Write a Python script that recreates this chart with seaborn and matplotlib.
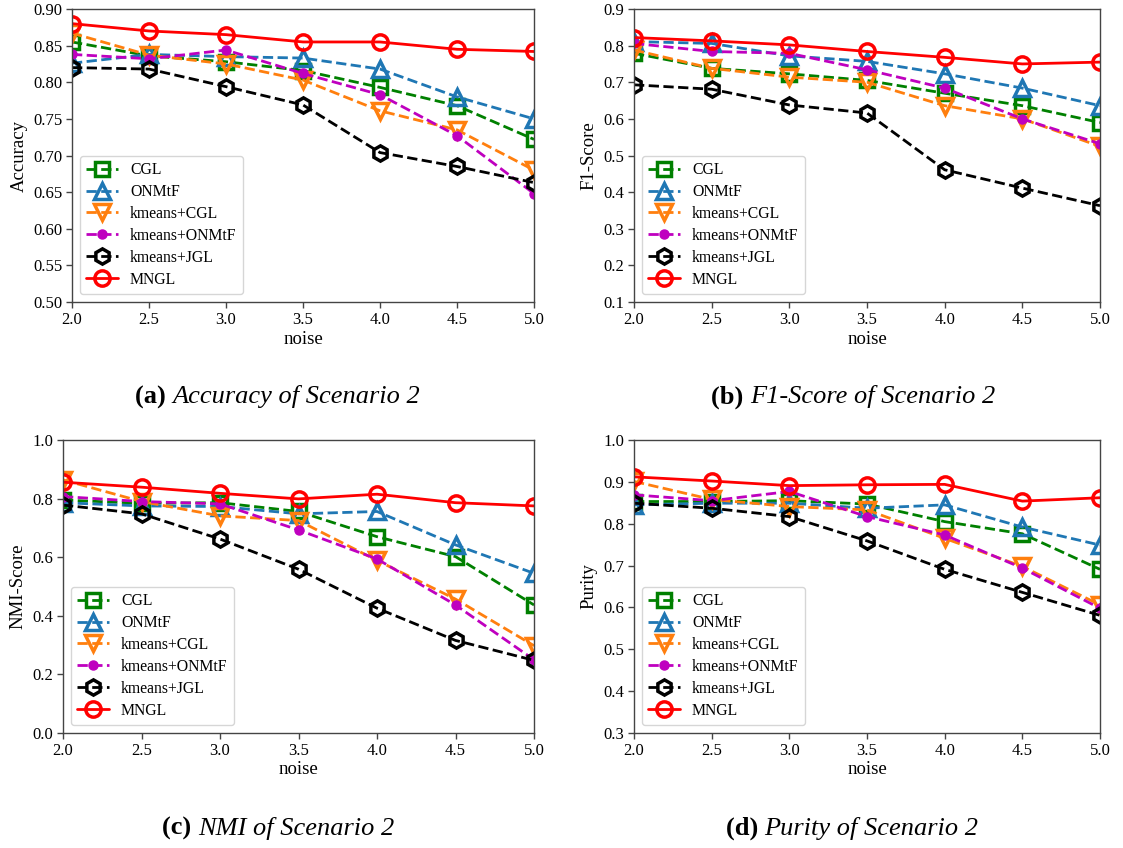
import matplotlib
matplotlib.use("Agg")
import matplotlib.pyplot as plt
import seaborn as sns
import pandas as pd

# ---------------- data ----------------
noise = [2.0, 2.5, 3.0, 3.5, 4.0, 4.5, 5.0]
methods = ["CGL", "ONMtF", "kmeans+CGL", "kmeans+ONMtF", "kmeans+JGL", "MNGL"]

# Accuracy
acc_cgl = [0.855, 0.836, 0.828, 0.816, 0.793, 0.768, 0.722]
acc_onmtf = [0.826, 0.838, 0.835, 0.833, 0.818, 0.780, 0.750]
acc_kcgl = [0.867, 0.837, 0.825, 0.803, 0.761, 0.735, 0.680]
acc_konmtf = [0.838, 0.832, 0.844, 0.812, 0.783, 0.727, 0.648]
acc_kjgl = [0.820, 0.818, 0.794, 0.769, 0.704, 0.685, 0.663]
acc_mngl = [0.880, 0.870, 0.865, 0.855, 0.855, 0.845, 0.842]

# F1-Score
f1_cgl = [0.779, 0.738, 0.723, 0.705, 0.670, 0.636, 0.590]
f1_onmtf = [0.811, 0.806, 0.772, 0.757, 0.723, 0.684, 0.636]
f1_kcgl = [0.788, 0.738, 0.714, 0.700, 0.636, 0.600, 0.525]
f1_konmtf = [0.806, 0.784, 0.779, 0.734, 0.684, 0.600, 0.532]
f1_kjgl = [0.693, 0.681, 0.638, 0.616, 0.461, 0.411, 0.363]
f1_mngl = [0.822, 0.813, 0.802, 0.784, 0.768, 0.750, 0.755]

# NMI
nmi_cgl = [0.795, 0.784, 0.786, 0.756, 0.670, 0.602, 0.437]
nmi_onmtf = [0.786, 0.775, 0.773, 0.748, 0.756, 0.642, 0.545]
nmi_kcgl = [0.864, 0.790, 0.741, 0.725, 0.589, 0.457, 0.298]
nmi_konmtf = [0.807, 0.790, 0.782, 0.693, 0.594, 0.437, 0.250]
nmi_kjgl = [0.778, 0.748, 0.662, 0.559, 0.426, 0.316, 0.248]
nmi_mngl = [0.856, 0.839, 0.818, 0.799, 0.815, 0.786, 0.775]

# Purity
pur_cgl = [0.853, 0.853, 0.855, 0.847, 0.805, 0.776, 0.691]
pur_onmtf = [0.845, 0.849, 0.849, 0.837, 0.845, 0.792, 0.749]
pur_kcgl = [0.901, 0.858, 0.841, 0.833, 0.765, 0.698, 0.606]
pur_konmtf = [0.869, 0.855, 0.877, 0.817, 0.773, 0.694, 0.598]
pur_kjgl = [0.849, 0.837, 0.817, 0.759, 0.691, 0.636, 0.581]
pur_mngl = [0.912, 0.902, 0.891, 0.893, 0.894, 0.854, 0.862]

y_labels = ["Accuracy", "F1-Score", "NMI-Score", "Purity"]
captions_bold = ["(a)", "(b)", "(c)", "(d)"]
captions_it = ["Accuracy of Scenario 2", "F1-Score of Scenario 2",
               "NMI of Scenario 2", "Purity of Scenario 2"]
x_ticks = [2.0, 2.5, 3.0, 3.5, 4.0, 4.5, 5.0]
y_ticks_a = [0.50, 0.55, 0.60, 0.65, 0.70, 0.75, 0.80, 0.85, 0.90]
y_ticks_b = [0.1, 0.2, 0.3, 0.4, 0.5, 0.6, 0.7, 0.8, 0.9]
y_ticks_c = [0.0, 0.2, 0.4, 0.6, 0.8, 1.0]
y_ticks_d = [0.3, 0.4, 0.5, 0.6, 0.7, 0.8, 0.9, 1.0]

metric_data = [
    [acc_cgl, acc_onmtf, acc_kcgl, acc_konmtf, acc_kjgl, acc_mngl],
    [f1_cgl, f1_onmtf, f1_kcgl, f1_konmtf, f1_kjgl, f1_mngl],
    [nmi_cgl, nmi_onmtf, nmi_kcgl, nmi_konmtf, nmi_kjgl, nmi_mngl],
    [pur_cgl, pur_onmtf, pur_kcgl, pur_konmtf, pur_kjgl, pur_mngl],
]
y_ticks_all = [y_ticks_a, y_ticks_b, y_ticks_c, y_ticks_d]
y_fmt = ["%.2f", "%.1f", "%.1f", "%.1f"]

# ---------------- style ----------------
sns.set_theme(style="ticks")
plt.rcParams["font.family"] = ["Liberation Serif", "DejaVu Serif"]
plt.rcParams["axes.edgecolor"] = "#444444"
plt.rcParams["axes.linewidth"] = 1.0
plt.rcParams["xtick.color"] = "#444444"
plt.rcParams["ytick.color"] = "#444444"
plt.rcParams["xtick.labelcolor"] = "black"
plt.rcParams["ytick.labelcolor"] = "black"
plt.rcParams["axes.labelcolor"] = "black"
plt.rcParams["text.color"] = "black"

styles = {
    "CGL": dict(color="green", marker="s", ls="--", ms=10, mfc="none"),
    "ONMtF": dict(color="#1f77b4", marker="^", ls="--", ms=12, mfc="none"),
    "kmeans+CGL": dict(color="#ff7f0e", marker="v", ls="--", ms=12, mfc="none"),
    "kmeans+ONMtF": dict(color="#bf00bf", marker="o", ls="--", ms=6.5, mfc="#bf00bf"),
    "kmeans+JGL": dict(color="black", marker="h", ls="--", ms=11, mfc="none"),
    "MNGL": dict(color="red", marker="o", ls="-", ms=11, mfc="none"),
}

fig = plt.figure(figsize=(11.23, 8.48), dpi=100)
W, H = 1123, 848
boxes = [
    (72, 9, 534, 302),
    (634, 9, 1100, 302),
    (63, 440, 534, 733),
    (634, 440, 1100, 733),
]
cap_centers = [(278, 397), (853, 397), (278, 828), (852, 828)]

for i in range(4):
    x0, y0, x1, y1 = boxes[i]
    ax = fig.add_axes([x0 / W, 1 - y1 / H, (x1 - x0) / W, (y1 - y0) / H])
    rows = []
    for m, vals in zip(methods, metric_data[i]):
        for xv, yv in zip(noise, vals):
            rows.append({"noise": xv, "value": yv, "method": m})
    df = pd.DataFrame(rows)
    for m in methods:
        st = styles[m]
        sns.lineplot(data=df[df["method"] == m], x="noise", y="value", ax=ax,
                     color=st["color"], marker=st["marker"], linestyle=st["ls"],
                     linewidth=2.0, markersize=st["ms"],
                     markerfacecolor=st["mfc"], markeredgecolor=st["color"],
                     markeredgewidth=2.5 if m != "kmeans+ONMtF" else 1.0,
                     label=m, errorbar=None)
    ax.set_xlim(2.0, 5.0)
    yt = y_ticks_all[i]
    ax.set_ylim(yt[0], yt[-1])
    ax.set_xticks(x_ticks)
    ax.set_xticklabels(["%.1f" % v for v in x_ticks], fontsize=12)
    ax.set_yticks(yt)
    ax.set_yticklabels([y_fmt[i] % v for v in yt], fontsize=12)
    ax.set_xlabel("noise", fontsize=13.5, labelpad=2)
    ax.set_ylabel(y_labels[i], fontsize=13.5, labelpad=4)
    ax.tick_params(length=4, width=1, pad=3)
    for sp in ax.spines.values():
        sp.set_visible(True)
    ax.legend(loc="lower left", fontsize=11.3, frameon=True, fancybox=True,
              framealpha=0.8, edgecolor="#cccccc", handlelength=2.0,
              labelspacing=0.38)

# captions
fig.canvas.draw()
renderer = fig.canvas.get_renderer()
cap_size = 19
for i in range(4):
    cx, cy = cap_centers[i]
    tb = fig.text(0, 0, captions_bold[i] + " ", fontsize=cap_size, fontweight="bold",
                  va="center", ha="left")
    ti = fig.text(0, 0, captions_it[i], fontsize=cap_size, fontstyle="italic",
                  va="center", ha="left")
    wb = tb.get_window_extent(renderer).width
    wi = ti.get_window_extent(renderer).width
    total = wb + wi
    left = cx - total / 2
    tb.set_position((left / W, 1 - cy / H))
    ti.set_position(((left + wb) / W, 1 - cy / H))

fig.savefig("out.png", dpi=100)
